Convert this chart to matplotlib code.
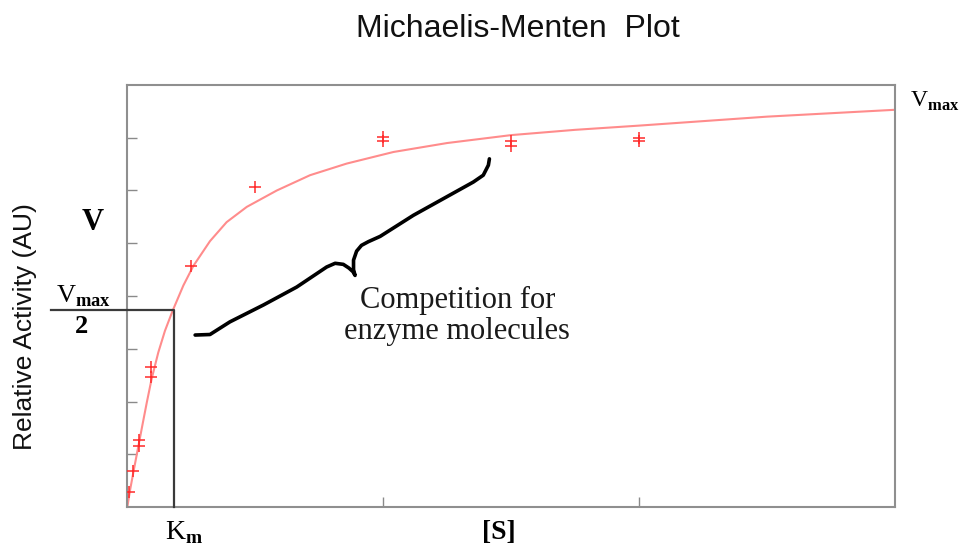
import numpy as np
import matplotlib
matplotlib.use("Agg")
from matplotlib import pyplot as plt

plt.rcParams['mathtext.fontset'] = 'custom'
plt.rcParams['mathtext.rm'] = 'Liberation Serif'
plt.rcParams['mathtext.bf'] = 'Liberation Serif:bold'

# substrate concentration / rate measurements (duplicates at some [S])
conc = [0.008, 0.023, 0.047, 0.047, 0.094, 0.094, 0.25, 0.5,
        1.0, 1.0, 1.5, 1.5, 2.0, 2.0]
rate = [0.28, 0.69, 1.27, 1.16, 2.65, 2.47, 4.57, 6.07,
        7.01, 6.94, 6.93, 6.84, 6.99, 6.93]

# saturation curve through the data
curve_s = [0, 0.011, 0.026, 0.043, 0.060, 0.076, 0.095, 0.121, 0.147, 0.177,
           0.219, 0.258, 0.323, 0.388, 0.467, 0.584, 0.714, 0.857, 1.04,
           1.25, 1.5, 1.75, 2.0, 2.5, 3.0]
curve_v = [0, 0.33, 0.72, 1.15, 1.58, 1.98, 2.43, 2.93, 3.34, 3.72,
           4.20, 4.57, 5.04, 5.40, 5.69, 6.00, 6.29, 6.51, 6.73,
           6.90, 7.05, 7.15, 7.23, 7.40, 7.53]

km = 0.1825
half_vmax = 3.73

# hand-drawn brace pointing at the plateau region
brace_x = [0.265, 0.323, 0.401, 0.532, 0.662, 0.779, 0.812, 0.844, 0.866, 0.882,
           0.890, 0.884, 0.884, 0.896, 0.915, 0.942, 0.988, 1.118, 1.248, 1.352,
           1.391, 1.411, 1.415]
brace_y = [3.26, 3.27, 3.51, 3.83, 4.17, 4.55, 4.62, 4.60, 4.53, 4.46,
           4.39, 4.50, 4.68, 4.85, 4.96, 5.03, 5.13, 5.53, 5.88, 6.16,
           6.29, 6.48, 6.60]

fig = plt.figure(figsize=(9.61, 5.48), dpi=100)
ax = fig.add_axes([0.1325, 0.0748, 0.7988, 0.7701])

ax.plot(curve_s, curve_v, color='#ff8c8c', lw=1.5, zorder=2)
ax.plot(conc, rate, '+', color='#ff2a2a', ms=9, mew=1.1, zorder=3)

# Km and Vmax/2 guide lines, the horizontal one runs out as the fraction bar
ax.plot([-0.30, km, km], [half_vmax, half_vmax, 0], color='#3a3a3a', lw=1.6,
        clip_on=False, zorder=4)

ax.plot(brace_x, brace_y, color='black', lw=2.6, solid_capstyle='round',
        solid_joinstyle='round', zorder=4)

ax.set_xlim(0, 3)
ax.set_ylim(0, 8)
ax.set_xticks([1, 2])
ax.set_yticks(range(1, 8))
ax.tick_params(direction='in', length=7, width=1, color='#8a8a8a',
               labelleft=False, labelbottom=False)
for side in ax.spines.values():
    side.set_color('#8f8f8f')
    side.set_linewidth(1.5)

serif = 'Liberation Serif'
ax.text(1.29, 3.62, 'Competition for\nenzyme molecules', fontsize=22,
        family=serif, ha='center', va='center', linespacing=1.08, color='#1a1a1a')
ax.text(-0.134, 5.40, 'V', fontsize=22, family=serif, weight='bold',
        ha='center', va='center', clip_on=False)
ax.text(-0.17, 4.0, r'$\mathrm{V}_{\mathbf{max}}$', fontsize=19,
        ha='center', va='center', clip_on=False)
ax.text(-0.18, 3.42, '2', fontsize=19, family=serif, weight='bold',
        ha='center', va='center', clip_on=False)
ax.text(0.22, -0.47, r'$\mathrm{K}_{\mathbf{m}}$', fontsize=20,
        ha='center', va='center', clip_on=False)
ax.text(1.45, -0.49, '[S]', fontsize=20, family=serif, weight='bold',
        ha='center', va='center', clip_on=False)
ax.text(3.06, 7.70, r'$\mathrm{V}_{\mathbf{max}}$', fontsize=17,
        ha='left', va='center', clip_on=False)

fig.text(518 / 961, 1 - 37 / 548, 'Michaelis-Menten  Plot', fontsize=23,
         family='Liberation Sans', ha='center', va='baseline', color='#111111')
fig.text(25 / 961, 1 - 327 / 548, 'Relative Activity (AU)', fontsize=19,
         family='Liberation Sans', rotation=90, ha='center', va='center',
         color='#111111')

fig.savefig('out.png', dpi=100)
